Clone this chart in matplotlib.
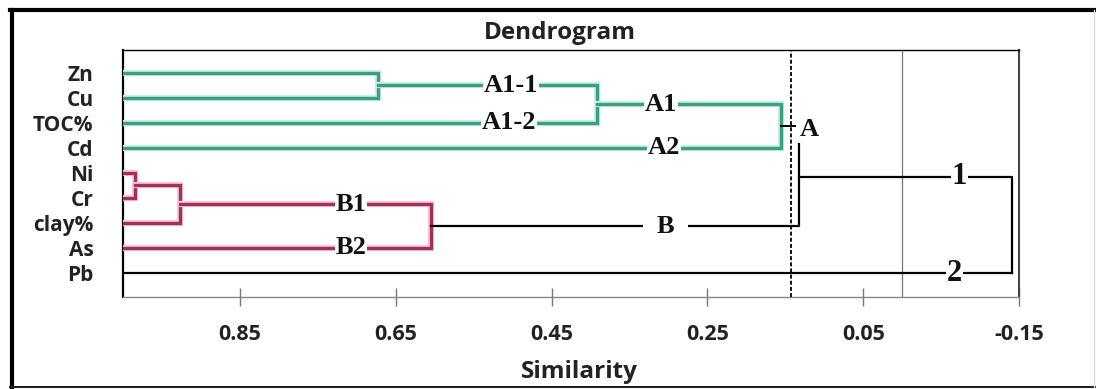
import matplotlib
matplotlib.use("Agg")
import matplotlib.pyplot as plt
import matplotlib.patheffects as pe
from matplotlib.lines import Line2D

# leaves, top to bottom
rows = ["Zn", "Cu", "TOC%", "Cd", "Ni", "Cr", "clay%", "As", "Pb"]

# merges: (left child, right child, similarity, new node)
green_merges = [("Zn", "Cu", 0.672, "A1-1"),
                ("A1-1", "TOC%", 0.392, "A1"),
                ("A1", "Cd", 0.156, "A")]
red_merges = [("Ni", "Cr", 0.984, "NiCr"),
              ("NiCr", "clay%", 0.927, "B1"),
              ("B1", "As", 0.604, "B")]

# hand-drawn top levels of the tree
sim_cluster1 = 0.133    # A + B
sim_root = -0.141       # 1 + 2 (Pb)
cut_line = 0.143        # dashed cut
zero_line = 0.0

x_ticks = [0.85, 0.65, 0.45, 0.25, 0.05, -0.15]

teal = "#3b9f84"
crimson = "#a32f5a"


def draw_merges(ax, merges, nodes, color, halo):
    fx = [pe.Stroke(linewidth=4.5, foreground=halo), pe.Normal()]
    for a, b, sim, name in merges:
        xa, ya = nodes[a]
        xb, yb = nodes[b]
        ax.plot([xa, sim, sim, xb], [ya, ya, yb, yb], color=color, lw=2.4,
                solid_joinstyle="miter", path_effects=fx, zorder=3)
        nodes[name] = (sim, (ya + yb) / 2)


fig = plt.figure(figsize=(10.96, 3.89), dpi=100)
ax = fig.add_axes([0.112, 0.2365, 0.818, 0.635])

nodes = {r: (1.0, i) for i, r in enumerate(rows)}
draw_merges(ax, green_merges, nodes, teal, "#cdeee3")
draw_merges(ax, red_merges, nodes, crimson, "#f6c9d8")

# black part of the tree
xa, ya = nodes["A"]
xb, yb = nodes["B"]
y1 = (ya + yb) / 2 + 0.02
ax.plot([xa, 0.138], [ya, ya], color="black", lw=1.4, zorder=3)
ax.plot([xb, sim_cluster1, sim_cluster1], [yb, yb, 2.84], color="black", lw=1.6, zorder=3)
ax.plot([sim_cluster1, sim_root, sim_root], [y1, y1, len(rows) - 1],
        color="black", lw=1.6, zorder=3)
ax.plot([1.0, sim_root], [len(rows) - 1, len(rows) - 1], color="black", lw=1.6, zorder=3)

ax.axvline(cut_line, color="black", lw=1.3, ls=(0, (2.2, 1.2)), zorder=4)
ax.axvline(zero_line, color="#777777", lw=0.9, zorder=2)

serif = dict(family="Liberation Serif", fontweight="bold", color="#111111",
             ha="center", va="center", zorder=5)
box = dict(facecolor="white", edgecolor="none", pad=0.6)
labels = [("A1-1", 0.502, 0.5, 19), ("A1-2", 0.505, 2, 19),
          ("A1", 0.31, 1.25, 19), ("A2", 0.306, 3, 19),
          ("B1", 0.707, 5.25, 19), ("B2", 0.707, 7, 19),
          ("1", -0.073, y1, 22), ("2", -0.067, 8, 22)]
for t, x, y, s in labels:
    ax.text(x, y, t, fontsize=s, bbox=box, **serif)
ax.text(0.304, yb, "B", fontsize=19, bbox=dict(facecolor="white", edgecolor="none", pad=10), **serif)
ax.text(0.131, 2.25, "A", fontsize=19, **{**serif, "ha": "left"})

ax.set_xlim(1.0, -0.15)
ax.set_ylim(8.96, -0.92)
ax.set_xticks(x_ticks)
ax.set_xticklabels([f"{v:.2f}" for v in x_ticks])
ax.set_yticks(range(len(rows)))
ax.set_yticklabels(rows)

sans = "Open Sans"
ax.tick_params(axis="x", direction="inout", length=13, width=1, color="#777777",
               pad=13, labelsize=15.5)
ax.tick_params(axis="y", length=0, pad=21, labelsize=15)
for lab in ax.get_xticklabels() + ax.get_yticklabels():
    lab.set_family(sans)
    lab.set_fontweight("bold")
    lab.set_color("#222222")
for lab in ax.get_yticklabels():
    lab.set_linespacing(0.8)

ax.spines["left"].set_linewidth(1.6)
ax.spines["top"].set_linewidth(1.0)
ax.spines["bottom"].set_color("#888888")
ax.spines["bottom"].set_linewidth(1.0)
ax.spines["right"].set_color("#444444")
ax.spines["right"].set_linewidth(1.5)

fig.text(560 / 1096, 1 - 33 / 389, "Dendrogram", family=sans, fontweight="bold",
         fontsize=17.5, ha="center", va="center", color="#222222")
fig.text(579 / 1096, 1 - 372 / 389, "Similarity", family=sans, fontweight="bold",
         fontsize=17.5, ha="center", va="center", color="#222222")

# outer frame of the picture
fig.add_artist(Line2D([12 / 1096, 12 / 1096], [2 / 389, 1 - 10 / 389], color="black", lw=3))
fig.add_artist(Line2D([10 / 1096, 1], [1 - 10 / 389, 1 - 10 / 389], color="black", lw=3))
fig.add_artist(Line2D([10 / 1096, 1], [2 / 389, 2 / 389], color="#222222", lw=1.5))
fig.add_artist(Line2D([1094 / 1096, 1094 / 1096], [2 / 389, 1 - 10 / 389], color="#dddddd", lw=1))

fig.savefig("out.png", dpi=100)
